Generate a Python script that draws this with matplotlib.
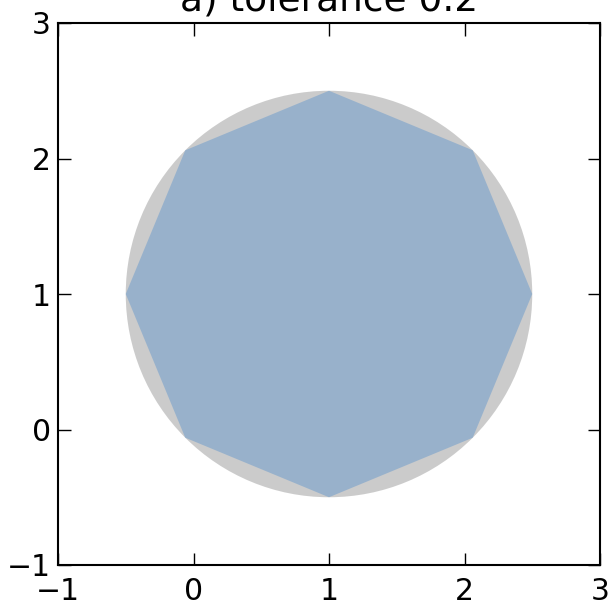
import matplotlib.pyplot as plt
from matplotlib.patches import Circle, Polygon

GRAY = '#999999'
BLUE = '#6699cc'

# original shape: circle buffered around a point
center = (1.0, 1.0)
radius = 1.5

# simplified outline (tolerance 0.2)
simp_x = [1.0, 2.0607, 2.5, 2.0607, 1.0, -0.0607, -0.5, -0.0607]
simp_y = [2.5, 2.0607, 1.0, -0.0607, -0.5, -0.0607, 1.0, 2.0607]

ticks = [-1, 0, 1, 2, 3]

fig = plt.figure(figsize=(6.14, 6.05), dpi=100)
ax = fig.add_axes([58 / 614, 40 / 605, 542 / 614, 542 / 605])

ax.add_patch(Circle(center, radius, fc=GRAY, ec='none', alpha=0.5, zorder=1))
ax.add_patch(Polygon(list(zip(simp_x, simp_y)), closed=True,
                     fc=BLUE, ec='none', alpha=0.5, zorder=2))

ax.set_xlim(-1, 3)
ax.set_ylim(-1, 3)
ax.set_aspect('equal')
ax.set_xticks(ticks)
ax.set_yticks(ticks)
ax.tick_params(direction='in', top=True, right=True, length=9, width=1,
               labelsize=21.5, pad=5)
ax.tick_params(axis='x', pad=9)
for s in ax.spines.values():
    s.set_linewidth(1.5)

ax.set_title('a) tolerance 0.2', fontsize=27, pad=9)

fig.savefig('out.png', dpi=100)
